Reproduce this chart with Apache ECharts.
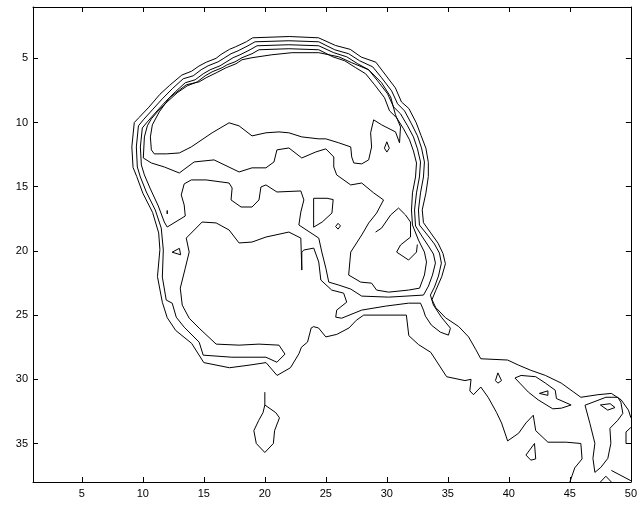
<!DOCTYPE html>
<html><head><meta charset="utf-8">
<script src="https://cdn.jsdelivr.net/npm/echarts@6/dist/echarts.min.js"></script>
<style>html,body{margin:0;padding:0;background:#fff}#c{width:640px;height:505px}</style>
</head><body><div id="c"></div>
<script>
const xTicks = [5,10,15,20,25,30,35,40,45,50];
const yTicks = [5,10,15,20,25,30,35];

const contourOuter = [[50.0,33.0],[49.8,32.4],[49.2,31.6],[48.4,31.1],[47.3,31.2],[45.9,31.4],[44.3,30.3],[43.0,29.7],[41.8,29.3],[40.8,28.9],[39.9,28.5],[37.7,28.4],[37.3,27.7],[36.7,26.7],[35.9,25.9],[34.8,25.2],[34.0,24.4],[33.7,23.8],[34.0,23.1],[34.5,22.0],[34.8,21.0],[34.6,20.2],[34.2,19.4],[33.6,18.6],[33.0,17.8],[32.9,16.8],[33.2,15.5],[33.4,14.2],[33.4,13.1],[33.2,12.0],[32.8,11.0],[32.4,10.0],[31.8,8.9],[31.2,8.4],[30.7,7.3],[29.9,6.3],[29.1,5.3],[27.9,4.9],[27.0,4.3],[25.8,4.0],[24.4,3.4],[22.0,3.3],[19.0,3.4],[18.5,3.7],[17.6,4.1],[17.1,4.3],[16.4,4.7],[16.0,5.0],[15.2,5.3],[14.6,5.6],[14.0,6.0],[13.2,6.3],[12.2,7.1],[11.4,7.8],[10.5,8.8],[9.7,9.6],[9.3,10.0],[9.1,11.9],[9.2,13.5],[9.5,14.2],[10.0,15.5],[10.8,17.0],[11.3,18.6],[11.4,19.9],[11.2,22.0],[11.6,24.0],[12.0,25.2],[12.7,26.2],[14.0,27.2],[15.0,28.7],[17.1,29.1],[18.7,28.9],[20.1,28.7],[21.0,29.7],[22.1,29.1],[22.8,28.0],[23.0,27.5],[23.5,27.1],[23.8,26.0],[24.0,25.9],[24.4,26.0],[25.0,26.7],[25.9,26.5],[26.9,26.0],[27.5,25.4],[28.1,25.0],[31.6,25.0],[31.8,26.6],[32.6,27.3],[33.6,27.9],[34.9,29.8],[36.4,30.1],[36.9,30.0],[36.8,30.9],[37.1,31.2],[37.7,30.6],[38.3,31.4],[39.0,32.6],[39.4,33.4],[39.9,34.8],[40.8,34.2],[41.4,33.4],[42.0,32.8],[42.2,34.0],[43.2,34.9],[44.7,34.9],[45.9,35.0],[46.0,36.2],[45.4,36.9],[45.0,38.0]];

const contourSecond = [[33.82,24.22],[33.57,23.44],[33.9,22.82],[34.23,21.96],[34.47,20.95],[34.31,20.17],[33.9,19.46],[33.33,18.76],[32.67,17.98],[32.59,16.81],[32.76,15.48],[33.0,14.24],[33.08,13.07],[32.84,11.98],[32.51,11.04],[32.02,10.1],[31.45,9.09],[30.88,8.54],[30.39,7.53],[29.57,6.51],[28.84,5.66],[27.77,5.19],[26.87,4.64],[25.73,4.33],[24.42,3.71],[21.97,3.63],[19.2,3.71],[18.62,4.02],[17.81,4.41],[17.23,4.64],[16.58,5.03],[16.17,5.27],[15.35,5.58],[14.78,5.89],[14.13,6.36],[13.31,6.59],[12.41,7.37],[11.6,8.15],[10.78,9.01],[10.04,9.79],[9.64,10.26],[9.47,11.9],[9.55,13.46],[9.8,14.24],[10.29,15.41],[11.02,16.81],[11.51,18.22],[11.68,19.93],[11.6,22.04],[11.92,23.83],[12.41,24.07],[12.74,25.16],[13.39,25.94],[14.62,27.11],[14.95,28.12],[17.3,28.28],[18.95,28.28],[20.09,28.28],[20.99,28.67],[21.65,28.04],[21.16,27.34],[19.52,27.26],[17.89,27.34],[16.01,27.26],[14.62,26.02],[13.8,25.24],[13.23,24.22],[13.07,22.9],[13.48,21.34],[13.8,20.09],[13.56,19.0],[14.86,17.75],[16.01,17.82],[17.07,18.37],[17.89,19.38],[18.95,19.31],[20.09,18.92],[21.97,18.53],[22.95,19.0],[23.03,21.49],[23.03,20.09],[23.2,19.93],[24.01,19.78],[24.42,20.87],[24.59,22.27],[25.48,23.05],[26.46,23.29],[26.71,23.99],[25.89,24.61],[25.81,25.16],[26.3,25.24],[27.94,24.61],[29.9,24.3],[31.78,24.07],[32.76,24.07],[33.0,24.61],[33.16,25.08],[33.65,25.78],[34.39,26.33],[35.05,26.56],[35.21,26.02],[34.47,25.16],[33.82,24.22]];

const contourThird = [[33.0,23.44],[33.41,22.74],[33.74,21.88],[33.98,20.95],[33.82,20.24],[33.41,19.62],[32.92,18.92],[32.35,18.06],[32.27,16.81],[32.43,15.48],[32.67,14.24],[32.76,13.07],[32.51,12.05],[32.18,11.12],[31.7,10.26],[31.12,9.32],[30.55,8.78],[30.06,7.76],[29.24,6.75],[28.51,5.89],[27.61,5.42],[26.71,4.88],[25.65,4.56],[24.42,4.02],[21.97,3.94],[19.36,4.02],[18.79,4.33],[17.97,4.72],[17.4,4.95],[16.74,5.34],[16.33,5.58],[15.52,5.89],[14.95,6.2],[14.29,6.67],[13.48,6.9],[12.66,7.61],[11.84,8.39],[11.02,9.25],[10.37,9.95],[9.96,10.42],[9.8,11.9],[9.88,13.3],[10.13,14.08],[10.62,15.17],[11.27,16.5],[11.76,17.75],[12.0,18.14],[13.48,17.28],[13.39,16.42],[13.15,15.64],[13.39,14.78],[13.97,14.47],[15.19,14.47],[17.07,14.71],[17.32,15.1],[17.23,16.03],[18.05,16.58],[18.95,16.58],[19.52,16.03],[19.68,15.02],[20.09,14.86],[20.99,15.41],[22.95,15.33],[23.2,16.03],[22.95,16.97],[22.79,17.98],[24.42,19.0],[24.67,20.09],[25.0,21.34],[25.24,22.43],[26.06,22.66],[27.04,22.97],[27.94,23.52],[30.15,23.6],[33.0,23.44]];

const contourFourth = [[10.04,12.76],[10.7,13.15],[11.76,13.46],[12.99,13.93],[14.21,13.07],[15.84,12.91],[17.89,13.85],[18.95,13.53],[20.09,13.53],[20.75,13.07],[20.99,12.13],[21.97,11.98],[23.03,12.76],[24.18,12.29],[25.0,12.05],[25.65,12.68],[25.65,13.46],[25.89,14.08],[27.04,14.86],[27.94,14.71],[28.92,15.48],[29.73,16.03],[29.16,17.05],[28.51,17.83],[27.94,18.76],[27.04,20.09],[26.87,21.88],[27.86,22.43],[28.75,22.51],[29.16,23.05],[30.15,23.21],[31.78,23.05],[32.68,22.9],[33.08,21.88],[33.25,20.87],[33.08,20.09],[32.59,19.15],[32.1,17.98],[32.02,16.81],[32.1,15.48],[32.35,14.24],[32.43,13.15],[32.18,12.21],[31.86,11.35],[31.37,10.49],[30.8,9.63],[30.22,9.09],[29.81,8.07],[29.0,7.06],[28.26,6.2],[27.45,5.73],[26.55,5.19],[25.57,4.88],[24.42,4.33],[21.97,4.25],[19.52,4.33],[18.95,4.64],[18.13,4.95],[17.56,5.27],[16.91,5.5],[16.5,5.73],[15.68,6.05],[15.11,6.36],[14.46,6.83],[13.64,7.14],[12.82,7.68],[12.0,8.39],[11.19,9.17],[10.7,9.71],[10.37,10.26],[10.13,11.12],[10.04,12.76]];

const contourInner = [[24.42,4.56],[22.22,4.56],[20.58,4.72],[18.95,4.95],[18.13,5.11],[17.64,5.42],[16.83,5.73],[16.01,6.13],[15.19,6.51],[14.62,6.83],[13.56,7.06],[12.17,8.08],[11.35,9.17],[10.78,10.18],[10.62,11.12],[10.7,12.13],[10.94,12.44],[11.92,12.44],[12.99,12.37],[13.97,11.9],[15.68,10.8],[17.07,10.02],[17.89,10.26],[18.95,11.04],[20.09,10.8],[21.16,10.73],[21.97,10.8],[23.03,11.12],[24.42,11.27],[25.0,11.27],[26.06,11.58],[27.04,11.9],[27.12,12.68],[27.29,13.15],[27.94,13.22],[28.51,12.91],[28.75,11.9],[28.67,10.8],[28.92,9.79],[29.57,10.18],[30.71,10.73],[31.04,11.58],[31.12,10.34],[30.71,9.4],[30.31,8.0],[29.57,6.9],[28.51,5.89],[27.12,5.34],[26.06,4.88],[24.42,4.56]];

const notchRight = [[29.08,18.53],[29.57,18.22],[30.31,17.2],[30.96,16.66],[31.53,17.2],[31.94,17.75],[31.94,18.92],[31.12,19.54],[30.8,20.09],[31.78,20.71],[32.43,20.09],[32.5,19.5]];

const loopEarA = [[30.0,11.5],[30.2,12.0],[30.0,12.3],[29.8,12.0],[30.0,11.5]];
const loopTinyL = [[12.0,16.85],[12.15,17.0],[12.0,17.12],[11.88,17.0],[12.0,16.85]];
const loopTriL = [[12.4,20.1],[13.0,19.8],[13.1,20.3],[12.4,20.1]];
const loopDiamondB = [[25.8,18.1],[26.0,17.85],[26.2,18.05],[26.0,18.3],[25.8,18.1]];
const loopBox = [[24.0,15.9],[25.1,15.9],[25.6,16.0],[25.5,17.05],[24.7,17.75],[24.0,18.15],[23.85,18.0],[24.0,15.9]];
const loopDrop = [[20.0,31.0],[20.0,32.0],[20.9,32.6],[21.2,33.0],[20.8,34.0],[20.7,35.0],[20.0,35.7],[19.3,35.0],[19.1,34.0],[19.5,33.2],[19.85,32.6],[20.0,32.0]];
const loopNeckC = [[38.9,30.1],[39.1,29.5],[39.4,30.1],[39.1,30.3],[38.9,30.1]];
const loopNeckN = [[40.5,29.9],[41.0,29.7],[42.2,29.8],[43.0,30.3],[43.8,30.85],[43.9,31.5],[45.1,32.0],[44.3,32.25],[43.6,32.3],[42.4,31.6],[41.6,31.0],[40.9,30.3],[40.5,29.9]];
const loopNeckTri = [[42.5,31.1],[43.2,30.9],[43.2,31.25],[42.5,31.1]];
const loopNeckD = [[47.5,32.0],[48.3,31.9],[48.7,32.2],[48.1,32.4],[47.5,32.0]];
const loopNeckS = [[41.4,35.9],[42.1,35.0],[42.2,36.2],[41.8,36.3],[41.4,35.9]];
const loopCorner = [[46.24,32.02],[47.95,31.4],[48.93,31.4],[49.18,31.79],[49.34,32.65],[48.93,33.19],[48.28,33.82],[48.36,34.99],[48.11,36.16],[47.54,36.86],[47.05,37.25],[46.89,36.16],[47.05,34.99],[46.64,33.43],[46.24,32.02]];
const edgeBump = [[50.0,33.75],[49.6,34.1],[49.6,35.0],[50.0,35.0]];
const bottomPeak = [[47.5,38.0],[47.95,37.55],[48.4,38.0]];
const cornerDiag = [[48.4,37.1],[50.0,37.9]];

const contours = [contourOuter, contourSecond, contourThird, contourFourth, contourInner, notchRight,
  loopEarA, loopTinyL, loopTriL, loopDiamondB, loopBox, loopDrop, loopNeckC, loopNeckN,
  loopNeckTri, loopNeckD, loopNeckS, loopCorner, edgeBump, bottomPeak, cornerDiag];

const chart = echarts.init(document.getElementById('c'), null, {renderer: 'canvas'});
const font = 'Liberation Sans, Arial, Helvetica, sans-serif';
const lineBlack = {show: true, onZero: false, lineStyle: {color: '#000', width: 1}};
function xAx(pos, labels) {
  return {type: 'value', min: 1, max: 50, position: pos,
    axisLine: lineBlack,
    axisTick: {show: true, inside: true, length: 5, customValues: xTicks, lineStyle: {color: '#000'}},
    axisLabel: {show: labels, customValues: xTicks, color: '#000', fontSize: 11, fontFamily: font, margin: 6},
    splitLine: {show: false}};
}
function yAx(pos, labels) {
  return {type: 'value', min: 1, max: 38, inverse: true, position: pos,
    axisLine: lineBlack,
    axisTick: {show: true, inside: true, length: 5, customValues: yTicks, lineStyle: {color: '#000'}},
    axisLabel: {show: labels, customValues: yTicks, color: '#000', fontSize: 11, fontFamily: font, margin: 5},
    splitLine: {show: false}};
}
chart.setOption({
  animation: false,
  backgroundColor: '#fff',
  grid: {left: 33, right: 7, top: 7, bottom: 23},
  xAxis: [xAx('bottom', true), xAx('top', false)],
  yAxis: [yAx('left', true), yAx('right', false)],
  series: contours.map(function (d) {
    return {type: 'line', data: d, xAxisIndex: 0, yAxisIndex: 0, showSymbol: false,
      symbol: 'none', silent: true, lineStyle: {color: '#000', width: 1}};
  })
});
</script>
</body></html>
